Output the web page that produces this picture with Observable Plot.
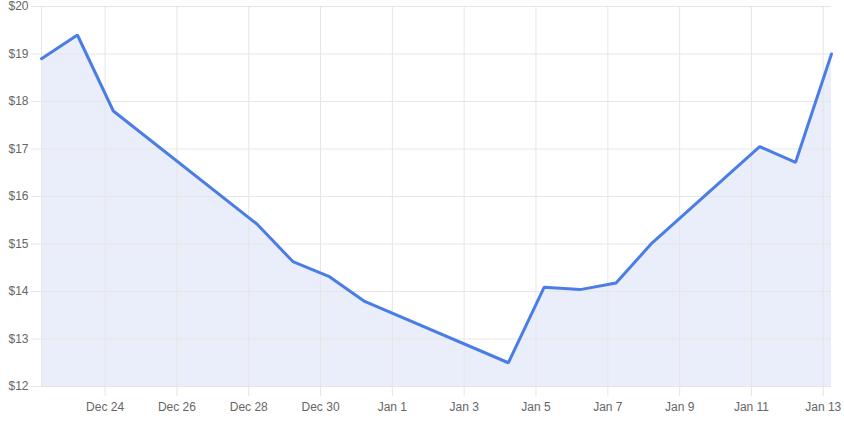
<!DOCTYPE html>
<html>
<head>
<meta charset="utf-8">
<script src="https://cdn.jsdelivr.net/npm/d3@7"></script>
<script src="https://cdn.jsdelivr.net/npm/@observablehq/plot@0.6"></script>
<style>
  html, body { margin: 0; padding: 0; background: #fff; }
  #chart svg { display: block; }
</style>
</head>
<body>
<div id="chart"></div>
<script>
const dates = [
  "2023-12-22", "2023-12-23", "2023-12-24", "2023-12-28", "2023-12-29",
  "2023-12-30", "2023-12-31", "2024-01-04", "2024-01-05", "2024-01-06",
  "2024-01-07", "2024-01-08", "2024-01-11", "2024-01-12", "2024-01-13"
];
const prices = [
  18.90, 19.40, 17.80, 15.42, 14.63,
  14.32, 13.79, 12.50, 14.09, 14.04,
  14.18, 15.02, 17.05, 16.72, 19.00
];
const xTickDates = [
  "2023-12-24", "2023-12-26", "2023-12-28", "2023-12-30", "2024-01-01",
  "2024-01-03", "2024-01-05", "2024-01-07", "2024-01-09", "2024-01-11", "2024-01-13"
];
const yTicks = [12, 13, 14, 15, 16, 17, 18, 19, 20];

const parseTime = s => new Date(s + "T05:30:00Z");
const data = dates.map((d, i) => ({date: parseTime(d), price: prices[i]}));
const xTicks = xTickDates.map(s => new Date(s + "T00:00:00Z"));
const xDomain = [data[0].date, data[data.length - 1].date];
const yDomain = [yTicks[0], yTicks[yTicks.length - 1]];

const gridColor = "#e6e6e6";
const textColor = "#666666";
const lineColor = "#4a7ee6";
const fillColor = "#eaeefa";

const chart = Plot.plot({
  width: 844,
  height: 422,
  marginLeft: 41,
  marginRight: 13,
  marginTop: 6,
  marginBottom: 36,
  style: {fontFamily: "'Liberation Sans', Arial, sans-serif", fontSize: "12px", color: textColor, background: "#fff"},
  x: {type: "utc", domain: xDomain},
  y: {domain: yDomain},
  marks: [
    Plot.areaY(data, {x: "date", y1: yDomain[0], y2: "price", fill: fillColor}),
    Plot.gridY(yTicks, {stroke: gridColor, strokeOpacity: 1, strokeWidth: 1}),
    Plot.gridX(xTicks, {stroke: gridColor, strokeOpacity: 1, strokeWidth: 1}),
    Plot.ruleX([xDomain[0]], {stroke: gridColor, strokeWidth: 1}),
    Plot.ruleY([yDomain[0]], {stroke: gridColor, strokeWidth: 1}),
    Plot.axisY({ticks: yTicks, tickSize: 10, tickPadding: 3, stroke: gridColor, fill: textColor, tickFormat: d => "$" + d, label: null}),
    Plot.axisX({ticks: xTicks, tickSize: 10, tickPadding: 6, stroke: gridColor, fill: textColor, tickFormat: d3.utcFormat("%b %-d"), label: null}),
    Plot.lineY(data, {x: "date", y: "price", stroke: lineColor, strokeWidth: 3, strokeLinejoin: "miter"})
  ]
});
document.getElementById("chart").append(chart);
</script>
</body>
</html>
